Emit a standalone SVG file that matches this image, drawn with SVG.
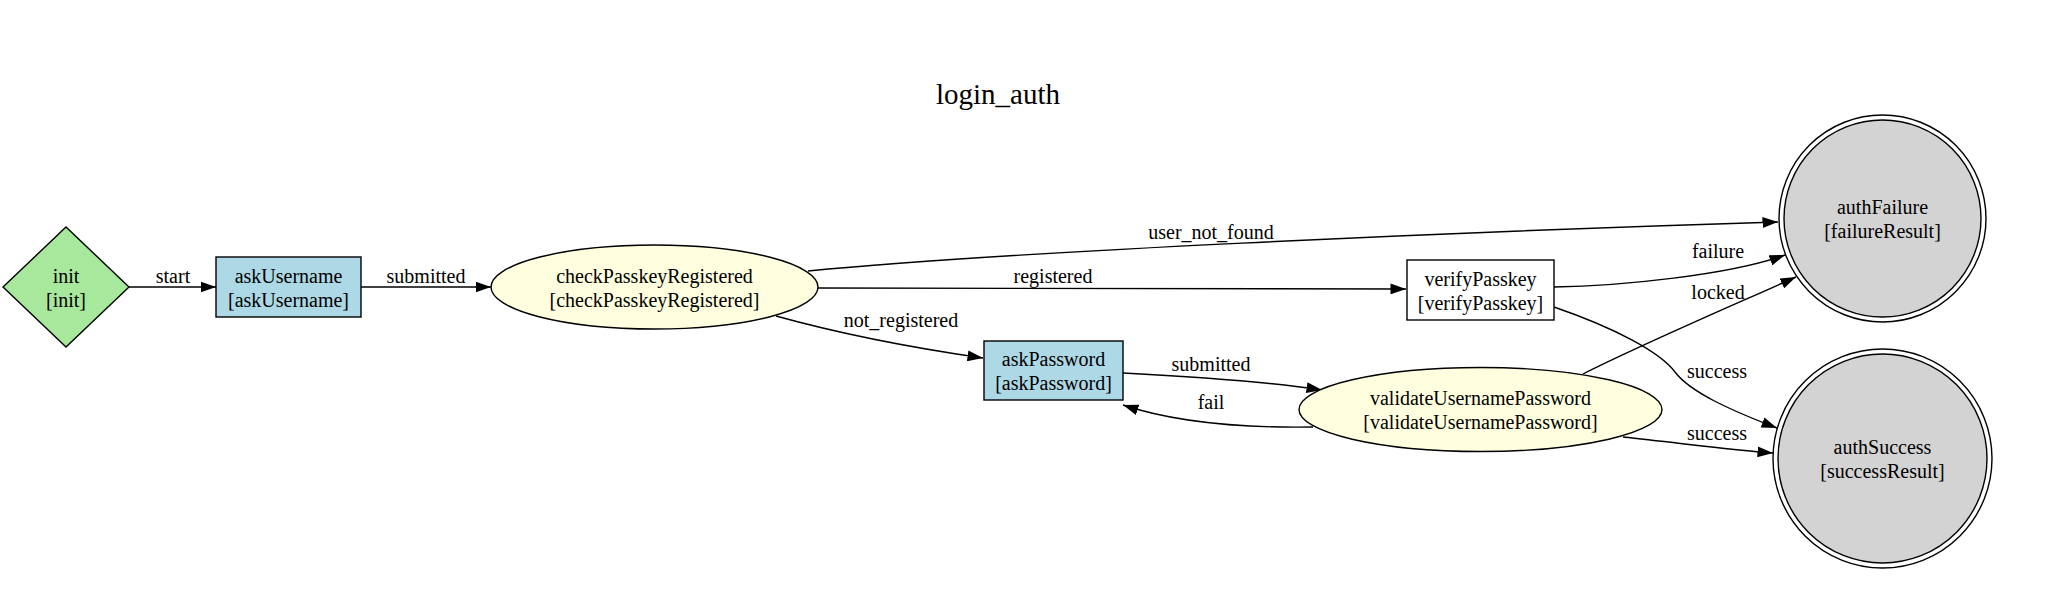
<svg xmlns="http://www.w3.org/2000/svg" width="2064" height="598" viewBox="0 0 2064 598">
<style>
text{font-family:"Liberation Serif","Times New Roman",serif;font-size:20px;fill:#000;text-anchor:middle}
.title{font-size:29px}
.node{stroke:#000;stroke-width:1.4}
.edge{fill:none;stroke:#000;stroke-width:1.4;marker-end:url(#arrow)}
</style>
<defs>
<marker id="arrow" viewBox="0 0 10 7" refX="10" refY="3.5" markerWidth="15.5" markerHeight="11" markerUnits="userSpaceOnUse" orient="auto">
<path d="M0,0 L10,3.5 L0,7 Z" fill="#000"/>
</marker>
</defs>
<rect width="2064" height="598" fill="#fff"/>
<text class="title" x="998" y="104">login_auth</text>

<g id="connectors">
<path class="edge" d="M129,287 L216,287"/>
<text x="173" y="283">start</text>
<path class="edge" d="M361,287 L491,287"/>
<text x="426" y="283">submitted</text>
<path class="edge" d="M808,271 C1000,252 1450,232 1778,222"/>
<text x="1211" y="239">user_not_found</text>
<path class="edge" d="M818,288 L1406,289"/>
<text x="1053" y="283">registered</text>
<path class="edge" d="M776,316 C830,331 900,346 983,358"/>
<text x="901" y="327">not_registered</text>
<path class="edge" d="M1123,373 C1180,376 1270,382 1322,390"/>
<text x="1211" y="371">submitted</text>
<path class="edge" d="M1313,427 C1250,428 1180,424 1123,405"/>
<text x="1211" y="409">fail</text>
<path class="edge" d="M1554,287 C1620,286 1730,275 1785,255"/>
<text x="1718" y="258">failure</text>
<path class="edge" d="M1583,374 C1640,345 1745,300 1796,277"/>
<text x="1718" y="299">locked</text>
<path class="edge" d="M1554,307 C1615,328 1660,352 1675,372 C1690,392 1730,410 1777,428"/>
<text x="1717" y="378">success</text>
<path class="edge" d="M1623,437 C1680,443 1730,450 1773,453"/>
<text x="1717" y="440">success</text>
</g>

<g id="init">
<polygon class="node" points="3,287 66,227 129,287 66,347" fill="#a8e89c"/>
<text x="66" y="283">init</text>
<text x="66" y="307">[init]</text>
</g>
<g id="askUsername">
<rect class="node" x="216" y="257" width="145" height="60" fill="#add8e6"/>
<text x="288.5" y="283">askUsername</text>
<text x="288.5" y="307">[askUsername]</text>
</g>
<g id="checkPasskeyRegistered">
<ellipse class="node" cx="654.5" cy="287" rx="163.5" ry="42" fill="#ffffe0"/>
<text x="654.5" y="283">checkPasskeyRegistered</text>
<text x="654.5" y="307">[checkPasskeyRegistered]</text>
</g>
<g id="askPassword">
<rect class="node" x="984" y="341" width="139" height="59" fill="#add8e6"/>
<text x="1053.5" y="366">askPassword</text>
<text x="1053.5" y="390">[askPassword]</text>
</g>
<g id="verifyPasskey">
<rect class="node" x="1407" y="260" width="147" height="60" fill="#fff"/>
<text x="1480.5" y="285.5">verifyPasskey</text>
<text x="1480.5" y="309.5">[verifyPasskey]</text>
</g>
<g id="validateUsernamePassword">
<ellipse class="node" cx="1480.5" cy="409.5" rx="181.5" ry="42" fill="#ffffe0"/>
<text x="1480.5" y="405">validateUsernamePassword</text>
<text x="1480.5" y="429">[validateUsernamePassword]</text>
</g>
<g id="authFailure">
<circle class="node" cx="1882.5" cy="218.5" r="103.5" fill="none"/>
<circle class="node" cx="1882.5" cy="218.5" r="98.5" fill="#d3d3d3"/>
<text x="1882.5" y="213.5">authFailure</text>
<text x="1882.5" y="237.5">[failureResult]</text>
</g>
<g id="authSuccess">
<circle class="node" cx="1882.5" cy="458.5" r="109.5" fill="none"/>
<circle class="node" cx="1882.5" cy="458.5" r="104.5" fill="#d3d3d3"/>
<text x="1882.5" y="453.5">authSuccess</text>
<text x="1882.5" y="477.5">[successResult]</text>
</g>
</svg>
